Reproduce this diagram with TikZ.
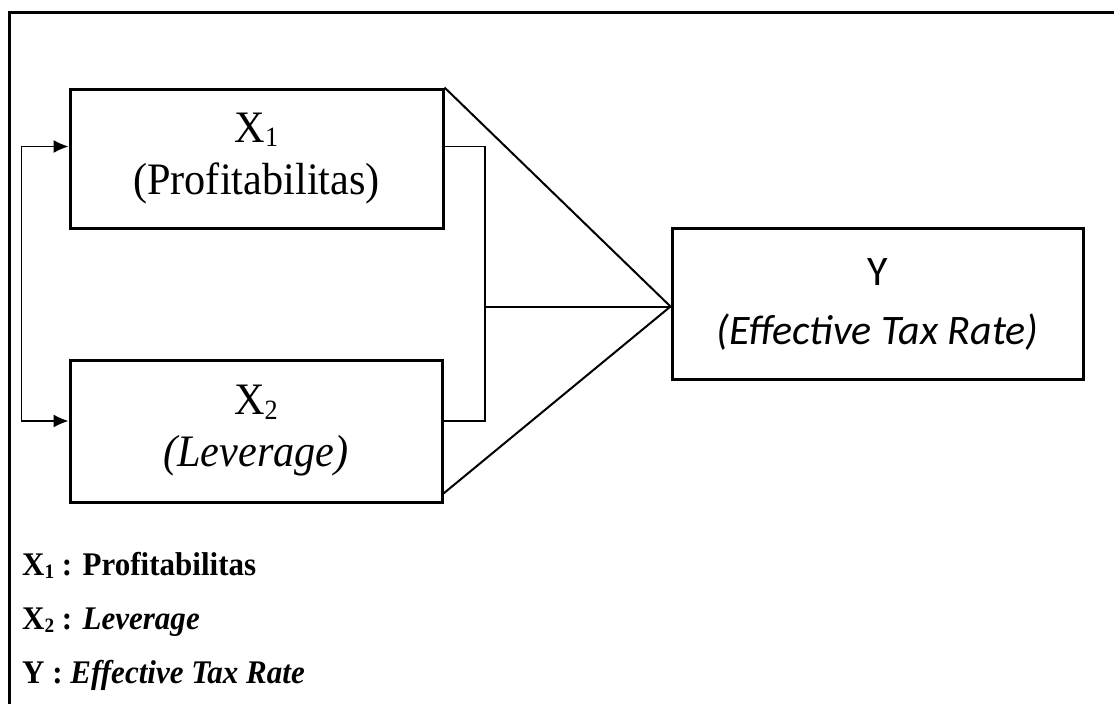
\documentclass[tikz,border=0pt]{standalone}
\usepackage{fontspec}
\setmainfont{Liberation Serif}[FakeStretch=0.94]
\newfontfamily\calibrifont{Carlito}
\usetikzlibrary{arrows.meta,calc,positioning}
\tikzstyle{varbox}=[rectangle,draw=black,line width=3pt,inner sep=0pt,align=center]
\tikzstyle{pathline}=[draw=black,line width=2pt]
\tikzstyle{legendtext}=[anchor=base west,inner sep=0pt,font=\fontsize{33}{39}\selectfont\bfseries]
\newcommand{\subidx}[1]{\raisebox{-0.1em}{\scalebox{0.62}{#1}}}

\begin{document}
\begin{tikzpicture}[x=1pt,y=-1pt,>={Latex[length=15pt,width=13pt]}]
    \useasboundingbox (0,0) rectangle (1114,704);
    % outer frame, cut by the page
    \draw[line width=3pt] (9,730) -- (9,12) -- (1140,12);

    \node[varbox,minimum width=373pt,minimum height=139pt,
      font=\fontsize{45}{52}\selectfont] (x1) at (256.5,158.5)
      {X\subidx{1}\\(Profitabilitas)};
    \node[varbox,minimum width=372pt,minimum height=142pt,
      font=\fontsize{45}{52}\selectfont] (x2) at (256,431)
      {X\subidx{2}\\\textit{(Leverage)}};
    \node[varbox,minimum width=411pt,minimum height=151pt,
      font=\calibrifont\fontsize{42}{59}\selectfont] (y) at (877.5,304)
      {Y\\\textit{(Effective Tax Rate)}};

    \coordinate (x1out) at ([yshift=12pt]x1.east);
    \coordinate (x2out) at ([yshift=10pt]x2.east);
    \coordinate (join) at (485,306.5);

    % direct paths
    \draw[pathline] (x1.north east) -- (join -| y.west);
    \draw[pathline] ([yshift=10pt]x2.south east) -- (join -| y.west);
    % simultaneous path
    \draw[line width=1.3pt] (x1out) -- (x1out -| join) -- (x2out -| join) -- (x2out);
    \draw[pathline] (join) -- (join -| y.west);
    % correlation
    \draw[<->,line width=1.3pt] ([yshift=12pt]x1.west) -- ++(-47,0)
      |- ([yshift=10pt]x2.west);

    \node[legendtext] (l1) at (22,575) {X\subidx{1} : Profitabilitas};
    \node[legendtext] (l2) at (22,629) {X\subidx{2} : \textit{Leverage}};
    \node[legendtext] (l3) at (22,683) {Y : \textit{Effective Tax Rate}};
\end{tikzpicture}
\end{document}
